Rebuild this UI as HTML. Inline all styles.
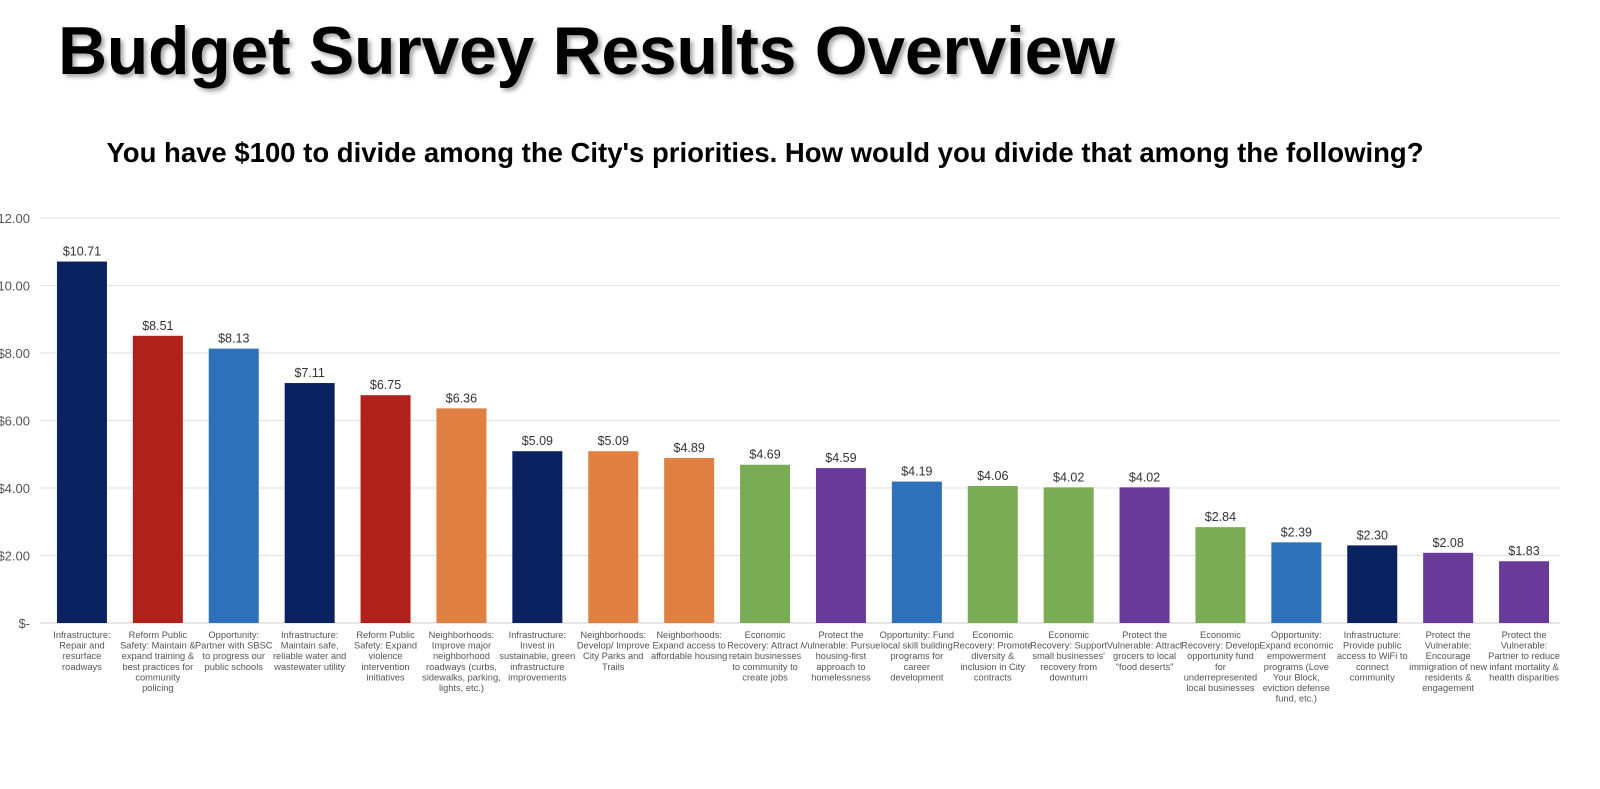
<!DOCTYPE html>
<html><head><meta charset="utf-8"><style>
body{margin:0;background:#fff;width:1600px;height:789px;overflow:hidden;font-family:"Liberation Sans",sans-serif;position:relative}
#title{position:absolute;left:58px;top:12px;font-size:68px;font-weight:bold;color:#000;text-shadow:3px 3px 4px rgba(0,0,0,0.35);letter-spacing:-0.3px}
#sub{position:absolute;left:0;width:1530px;top:137px;text-align:center;font-size:27.5px;font-weight:bold;color:#000}
</style></head><body>
<div id="title">Budget Survey Results Overview</div>
<div id="sub">You have $100 to divide among the City's priorities. How would you divide that among the following?</div>
<svg id="chart" width="1600" height="789" style="position:absolute;left:0;top:0"></svg>
<script>
const categories=[
["Infrastructure:","Repair and","resurface","roadways"],
["Reform Public","Safety: Maintain &","expand training &","best practices for","community","policing"],
["Opportunity:","Partner with SBSC","to progress our","public schools"],
["Infrastructure:","Maintain safe,","reliable water and","wastewater utility"],
["Reform Public","Safety: Expand","violence","intervention","initiatives"],
["Neighborhoods:","Improve major","neighborhood","roadways (curbs,","sidewalks, parking,","lights, etc.)"],
["Infrastructure:","Invest in","sustainable, green","infrastructure","improvements"],
["Neighborhoods:","Develop/ Improve","City Parks and","Trails"],
["Neighborhoods:","Expand access to","affordable housing"],
["Economic","Recovery: Attract /","retain businesses","to community to","create jobs"],
["Protect the","Vulnerable: Pursue","housing-first","approach to","homelessness"],
["Opportunity: Fund","local skill building","programs for","career","development"],
["Economic","Recovery: Promote","diversity &","inclusion in City","contracts"],
["Economic","Recovery: Support","small businesses'","recovery from","downturn"],
["Protect the","Vulnerable: Attract","grocers to local","\"food deserts\""],
["Economic","Recovery: Develop","opportunity fund","for","underrepresented","local businesses"],
["Opportunity:","Expand economic","empowerment","programs (Love","Your Block,","eviction defense","fund, etc.)"],
["Infrastructure:","Provide public","access to WiFi to","connect","community"],
["Protect the","Vulnerable:","Encourage","immigration of new","residents &","engagement"],
["Protect the","Vulnerable:","Partner to reduce","infant mortality &","health disparities"]];
const values=[10.71,8.51,8.13,7.11,6.75,6.36,5.09,5.09,4.89,4.69,4.59,4.19,4.06,4.02,4.02,2.84,2.39,2.30,2.08,1.83];
const colorKeys=["navy","red","blue","navy","red","orange","navy","orange","orange","green","purple","blue","green","green","purple","green","blue","navy","purple","purple"];
const tickValues=[0,2,4,6,8,10,12];
const tickLabels=["$-","$2.00","$4.00","$6.00","$8.00","10.00","12.00"];
const palette={navy:"#0b2260",red:"#b0211c",blue:"#2e70ba",orange:"#e07f42",green:"#7aab55",purple:"#6a3a9b"};
const svg=document.getElementById('chart');const NS="http://www.w3.org/2000/svg";
const y0=623,pxPer=33.75,x0=44,step=75.9,bw=50;
const y=v=>y0-v*pxPer;const xc=i=>x0+step*(i+0.5);
function mk(t,a){const e=document.createElementNS(NS,t);for(const k in a)e.setAttribute(k,a[k]);svg.appendChild(e);return e;}
tickValues.forEach((v,i)=>{
const g=mk('line',{x1:40,x2:1560,y1:y(v),y2:y(v),stroke:i==0?'#ccc':'#e2e2e2','stroke-width':1});


const t=mk('text',{x:30,y:y(v)+5,'text-anchor':'end','font-size':13,fill:'#555'});t.textContent=tickLabels[i];


});
values.forEach((v,i)=>{
const r=mk('rect',{x:xc(i)-bw/2,y:y(v),width:bw,height:y0-y(v),fill:palette[colorKeys[i]]});


const t=mk('text',{x:xc(i),y:y(v)-6,'text-anchor':'middle','font-size':12.5,fill:'#333'});t.textContent='$'+v.toFixed(2);


const ct=mk('text',{x:xc(i),y:638,'text-anchor':'middle','font-size':9.3,fill:'#555'});


categories[i].forEach((ln,j)=>{const s=document.createElementNS(NS,'tspan');s.setAttribute('x',xc(i));s.setAttribute('dy',j?10.6:0);s.textContent=ln;ct.appendChild(s);});
});
</script>
</body></html>
